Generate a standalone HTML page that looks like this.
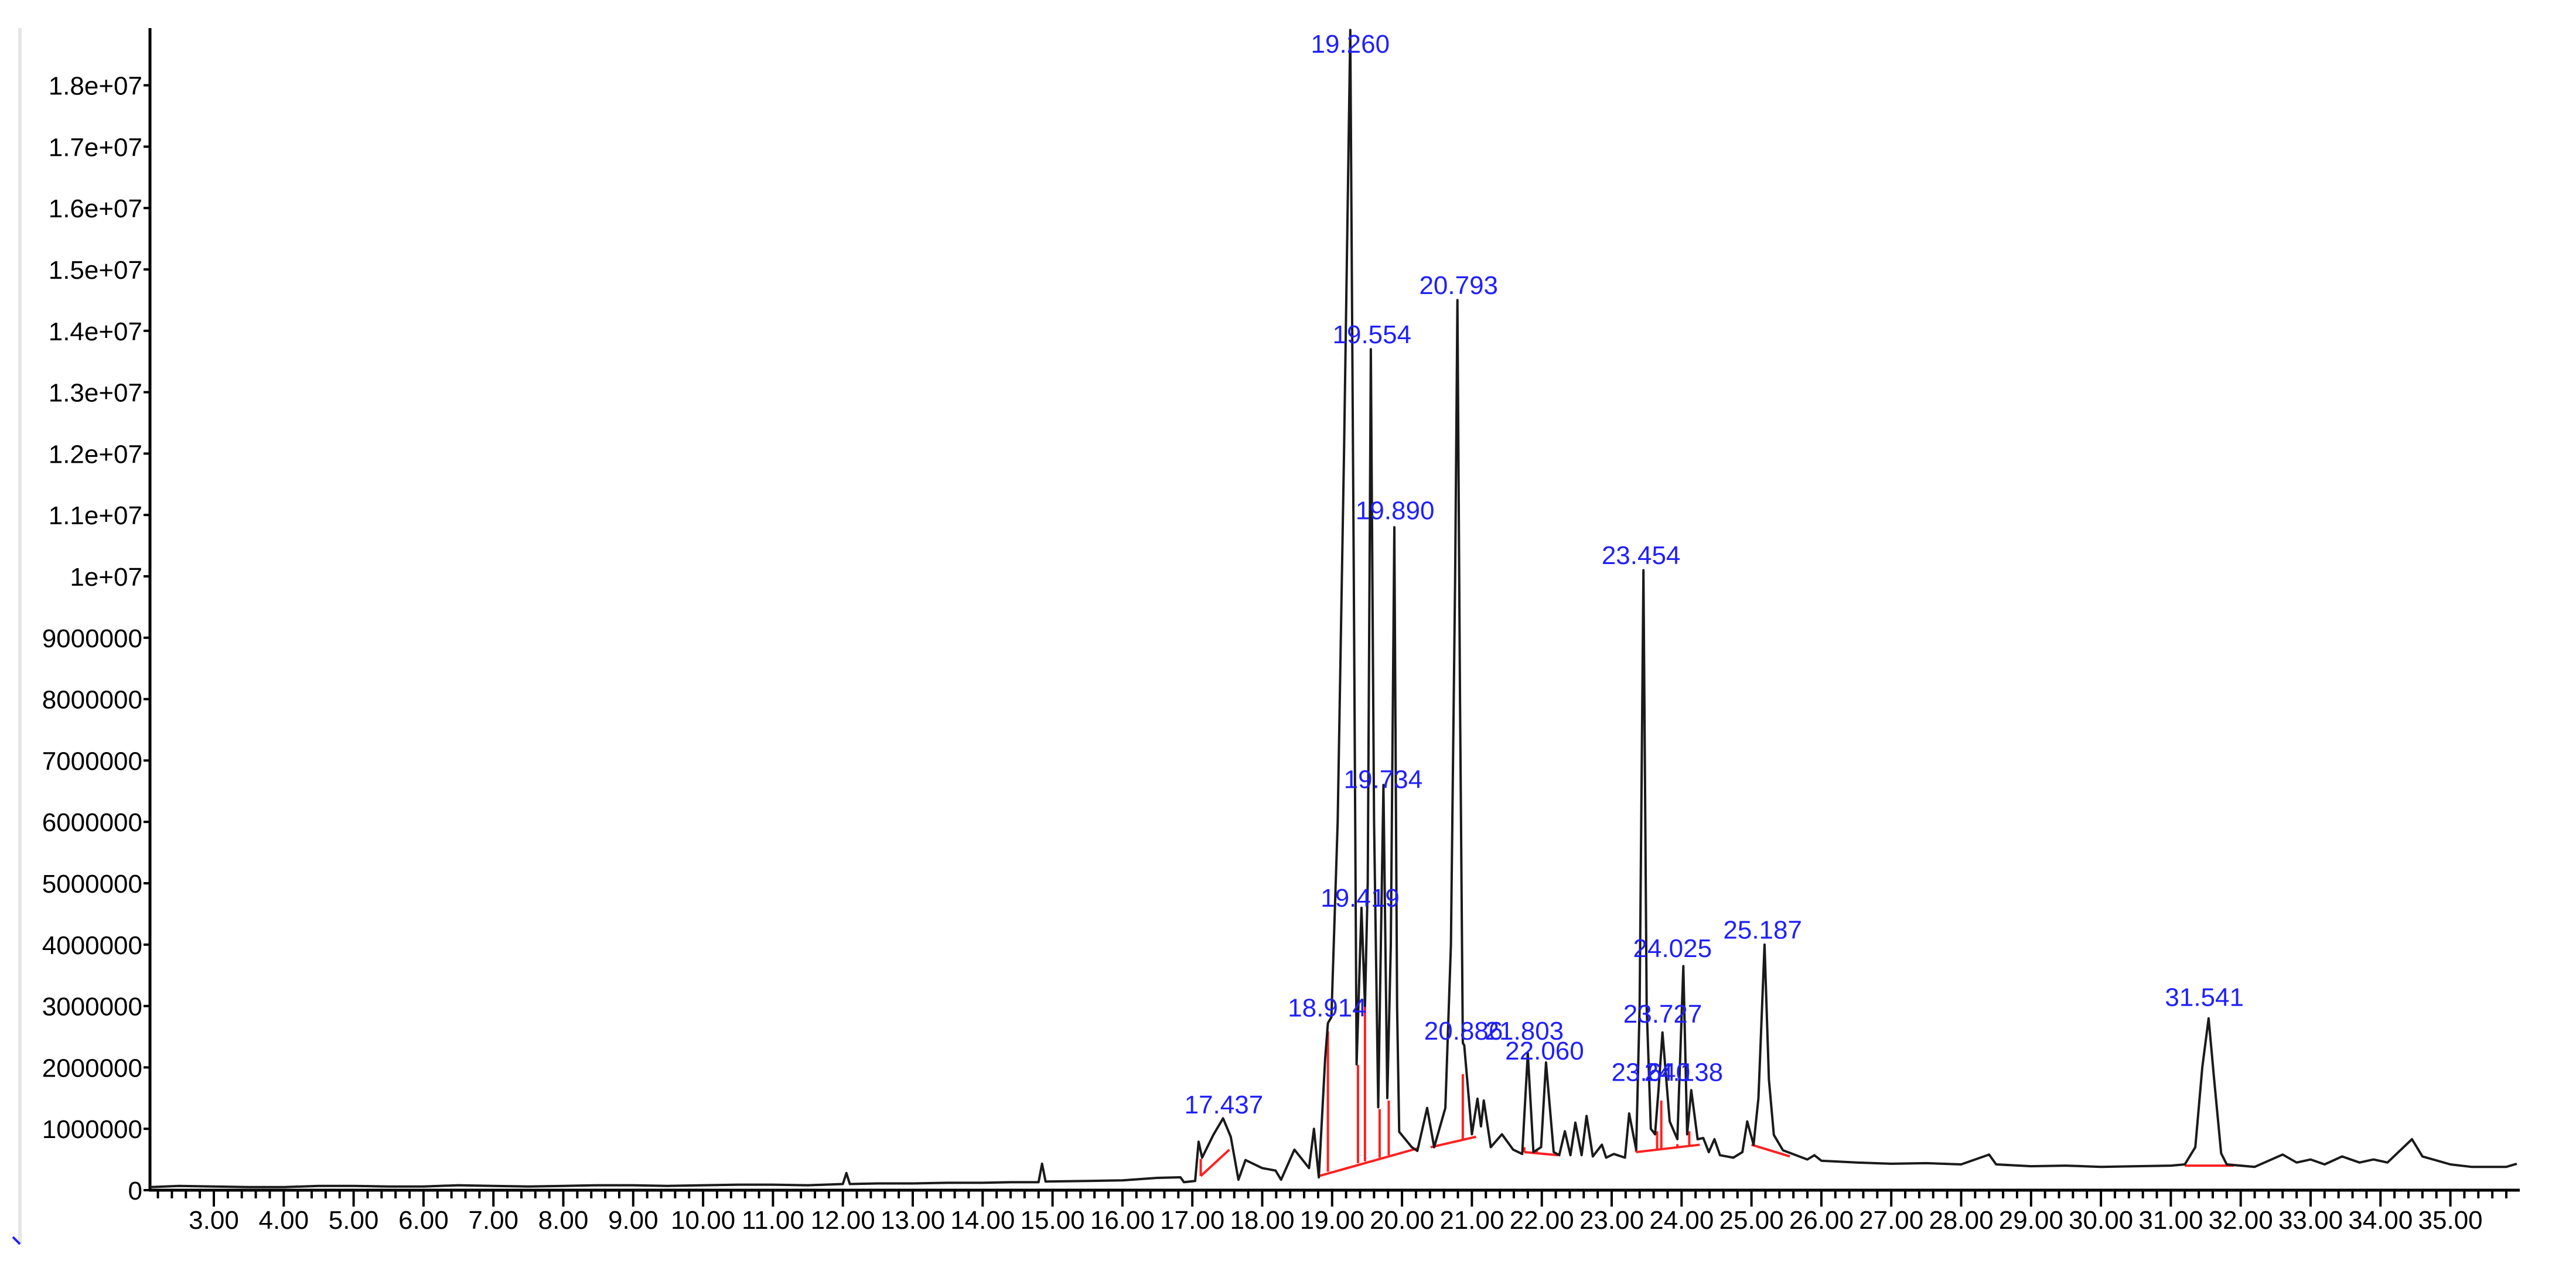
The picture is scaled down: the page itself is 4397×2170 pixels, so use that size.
<!DOCTYPE html>
<html><head><meta charset="utf-8"><style>
html,body{margin:0;padding:0;background:#fff;}
svg{display:block;}
text{font-family:"Liberation Sans",Arial,sans-serif;}
</style></head><body>
<svg id="chart" xmlns="http://www.w3.org/2000/svg" width="4397" height="2170" viewBox="0 0 4397 2170">
<rect x="0" y="0" width="4397" height="2170" fill="#fff"/>
<line x1="34" y1="48" x2="34" y2="2125" stroke="#e6e6e6" stroke-width="6"/>
<line x1="22" y1="2112" x2="34" y2="2124" stroke="#2020ff" stroke-width="4"/>
<g id="gAxes"></g>
<g id="gRed"></g>
<g id="gTrace"></g>
<g id="gLabels"></g>
</svg>
<script>
// ---- data ----
const trace = [
[2.09,0.05],[2.5,0.07],[3.0,0.06],[3.5,0.05],[4.0,0.05],[4.5,0.07],[5.0,0.07],[5.5,0.06],[6.0,0.06],[6.5,0.08],[7.0,0.07],[7.5,0.06],[8.0,0.07],[8.5,0.08],[9.0,0.08],[9.5,0.07],[10.0,0.08],[10.5,0.09],[11.0,0.09],[11.5,0.08],[12.0,0.1],[12.05,0.28],[12.1,0.1],[12.5,0.11],[13.0,0.11],[13.5,0.12],[14.0,0.12],[14.4,0.13],[14.8,0.13],[14.85,0.43],[14.9,0.14],[15.5,0.15],[16.0,0.16],[16.5,0.2],[16.83,0.21],[16.88,0.13],[17.04,0.15],[17.09,0.79],[17.14,0.53],[17.3,0.9],[17.44,1.17],[17.55,0.87],[17.66,0.17],[17.76,0.49],[18.0,0.36],[18.19,0.32],[18.27,0.17],[18.46,0.66],[18.67,0.36],[18.74,1.0],[18.81,0.21],[18.90,2.14],[18.94,2.72],[18.99,2.82],[19.08,6.0],[19.17,12.0],[19.26,18.9],[19.31,10.0],[19.35,2.05],[19.42,4.6],[19.47,3.0],[19.51,5.0],[19.554,13.7],[19.60,6.0],[19.66,1.35],[19.734,6.6],[19.79,1.5],[19.84,4.0],[19.89,10.8],[19.93,3.0],[19.96,0.95],[20.14,0.70],[20.22,0.64],[20.36,1.34],[20.46,0.70],[20.62,1.34],[20.70,4.0],[20.76,10.0],[20.793,14.5],[20.83,8.0],[20.87,2.4],[20.89,2.36],[21.0,0.91],[21.08,1.49],[21.13,1.04],[21.17,1.46],[21.27,0.70],[21.43,0.91],[21.59,0.66],[21.72,0.59],[21.80,2.23],[21.88,0.62],[21.99,0.70],[22.06,2.08],[22.17,0.62],[22.25,0.57],[22.33,0.96],[22.41,0.57],[22.48,1.10],[22.57,0.57],[22.64,1.21],[22.73,0.55],[22.86,0.74],[22.92,0.53],[23.03,0.59],[23.19,0.53],[23.25,1.25],[23.35,0.66],[23.40,3.0],[23.454,10.1],[23.50,3.0],[23.56,1.0],[23.62,0.91],[23.67,1.63],[23.727,2.57],[23.83,1.12],[23.94,0.83],[24.025,3.65],[24.08,0.91],[24.138,1.63],[24.23,0.83],[24.31,0.85],[24.39,0.62],[24.47,0.83],[24.55,0.57],[24.74,0.53],[24.87,0.62],[24.94,1.12],[25.03,0.74],[25.10,1.5],[25.187,4.0],[25.25,1.8],[25.32,0.9],[25.45,0.65],[25.8,0.5],[25.9,0.57],[26.0,0.48],[26.5,0.45],[27.0,0.43],[27.5,0.44],[28.0,0.42],[28.4,0.58],[28.5,0.42],[29.0,0.39],[29.5,0.4],[30.0,0.38],[30.5,0.39],[31.0,0.4],[31.2,0.42],[31.35,0.7],[31.45,2.0],[31.541,2.8],[31.62,1.8],[31.72,0.6],[31.8,0.42],[32.2,0.38],[32.6,0.58],[32.8,0.45],[33.0,0.5],[33.2,0.42],[33.45,0.55],[33.7,0.45],[33.9,0.5],[34.1,0.45],[34.45,0.83],[34.6,0.55],[35.0,0.42],[35.3,0.38],[35.8,0.38],[35.95,0.43]
];
const baselines = [
[17.12,0.23,17.53,0.66],[18.81,0.23,20.22,0.68],[20.41,0.70,21.06,0.87],[21.75,0.62,22.23,0.57],[23.35,0.62,24.26,0.74],[25.0,0.74,25.55,0.55],[31.2,0.40,31.9,0.40]
];
const drops = [
[17.12,0.23,0.51],[18.94,0.30,2.59],[19.37,0.44,2.04],[19.47,0.47,3.69],[19.68,0.53,1.32],[19.81,0.57,1.46],[20.87,0.81,1.89],[21.75,0.62,0.70],[21.93,0.60,0.64],[23.35,0.62,0.76],[23.65,0.66,0.96],[23.71,0.67,1.46],[23.94,0.70,0.75],[24.11,0.72,0.96]
];
const labelText = ["17.437","18.914","19.260","19.554","19.890","19.734","19.419","20.793","20.886","21.803","22.060","23.454","23.727","24.025","25.187","23.640","24.138","31.541"];
const labelT = [17.45,18.93,19.26,19.57,19.90,19.73,19.40,20.81,20.88,21.75,22.04,23.42,23.73,23.87,25.16,23.56,24.03,31.48];
const labelI = [1.25,2.83,18.53,13.8,10.93,6.55,4.62,14.6,2.45,2.45,2.13,10.2,2.73,3.8,4.1,1.78,1.78,3.0];
const yTickVals = [0,1,2,3,4,5,6,7,8,9,10,11,12,13,14,15,16,17,18];
const yTickLabels = ["0","1000000","2000000","3000000","4000000","5000000","6000000","7000000","8000000","9000000","1e+07","1.1e+07","1.2e+07","1.3e+07","1.4e+07","1.5e+07","1.6e+07","1.7e+07","1.8e+07"];
const xMajor = [3,4,5,6,7,8,9,10,11,12,13,14,15,16,17,18,19,20,21,22,23,24,25,26,27,28,29,30,31,32,33,34,35];

// ---- axes ----
const X0=256, X1=4301, Y0=2032, YTOP=48;
const xs = t => 365 + (t-3)*119.3;
const ys = v => Y0 - v*104.8;
const NS="http://www.w3.org/2000/svg";
function mk(tag, attrs, parent){const e=document.createElementNS(NS,tag);for(const k in attrs)e.setAttribute(k,attrs[k]);parent.appendChild(e);return e;}
const gA=document.getElementById('gAxes');
let e;
e=mk('line',{x1:X0,y1:YTOP,x2:X0,y2:Y0+2,stroke:'#000','stroke-width':5},gA);


e=mk('line',{x1:X0-2,y1:Y0,x2:X1,y2:Y0,stroke:'#000','stroke-width':5},gA);


yTickVals.forEach((v,i)=>{
  const y=ys(v);
  e=mk('line',{x1:X0-11,y1:y,x2:X0,y2:y,stroke:'#000','stroke-width':4},gA);
  
  
  e=mk('text',{x:X0-13,y:y+16,'text-anchor':'end','font-size':44,fill:'#000'},gA);
  e.textContent=yTickLabels[i];
  
  
});
for(let k=11;k<=180;k++){
  const t=k*0.2; const x=xs(t); if(x<X0+4||x>X1) continue;
  const major=Math.abs(t-Math.round(t))<1e-6;
  e=mk('line',{x1:x,y1:Y0,x2:x,y2:Y0+(major?28:14),stroke:'#000','stroke-width':4},gA);
  
  
}
xMajor.forEach(t=>{
  e=mk('text',{x:xs(t),y:2098,'text-anchor':'middle','font-size':44,fill:'#000'},gA);
  e.textContent=t.toFixed(2);
  
  
});
// ---- red integration ----
const gR=document.getElementById('gRed');
baselines.forEach(b=>{
  e=mk('line',{x1:xs(b[0]),y1:ys(b[1]),x2:xs(b[2]),y2:ys(b[3]),stroke:'#ff2020','stroke-width':4},gR);
  
  
});
drops.forEach(d=>{
  e=mk('line',{x1:xs(d[0]),y1:ys(d[1]),x2:xs(d[0]),y2:ys(d[2]),stroke:'#ff2020','stroke-width':4},gR);
  
  
});
// ---- trace ----
const gT=document.getElementById('gTrace');
e=mk('polyline',{points:trace.map(p=>xs(p[0]).toFixed(1)+','+ys(p[1]).toFixed(1)).join(' '),fill:'none',stroke:'#1a1a1a','stroke-width':4,'stroke-linejoin':'round'},gT);


// ---- labels ----
const gL=document.getElementById('gLabels');
labelText.forEach((s,i)=>{
  e=mk('text',{x:xs(labelT[i]),y:ys(labelI[i]),'text-anchor':'middle','font-size':44,fill:'#1f1fff'},gL);
  e.textContent=s;
  
  
});
</script>
</body></html>
